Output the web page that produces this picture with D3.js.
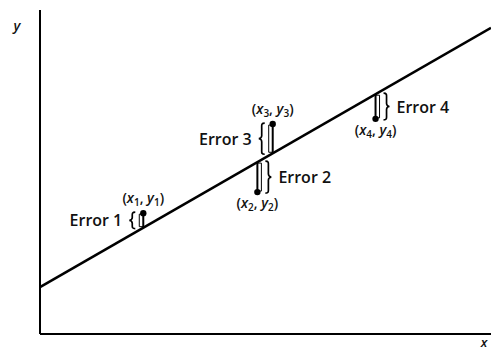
<!DOCTYPE html>
<html>
<head>
<meta charset="utf-8">
<script src="https://cdn.jsdelivr.net/npm/d3@7"></script>
<style>
  body { margin: 0; background: #fff; }
  svg { display: block; }
  text { font-family: "Open Sans", sans-serif; fill: #111; }
</style>
</head>
<body>
<svg width="491" height="350"></svg>
<script>
const svg = d3.select('svg');

// fitted line y = a + b x
const intercept = 1.45;
const slope = 0.8;

// observed points
const pointX = [2.29, 4.82, 5.16, 7.44];
const pointY = [3.73, 4.38, 6.48, 6.64];
const errorLabels = ['Error 1', 'Error 2', 'Error 3', 'Error 4'];
const braceSide = [-1, 1, -1, 1];

const x = d3.scaleLinear().domain([0, 10]).range([40, 491]);
const y = d3.scaleLinear().domain([0, 10]).range([334, 10]);

// axes (no ticks)
svg.append('line')
    .attr('x1', x(0)).attr('x2', x(0))
    .attr('y1', y(0)).attr('y2', y(10))
    .attr('stroke', '#000').attr('stroke-width', 2);
svg.append('line')
    .attr('x1', x(0)).attr('x2', x(10))
    .attr('y1', y(0)).attr('y2', y(0))
    .attr('stroke', '#000').attr('stroke-width', 2);

svg.append('text').attr('x', 17).attr('y', 31)
    .attr('font-style', 'italic').attr('font-weight', 600)
    .attr('font-size', 14).attr('text-anchor', 'middle').text('y');
svg.append('text').attr('x', 484).attr('y', 347)
    .attr('font-style', 'italic').attr('font-weight', 600)
    .attr('font-size', 13).attr('text-anchor', 'middle').text('x');

// regression line
const fit = v => intercept + slope * v;
svg.append('path')
    .attr('d', d3.line()([[x(0), y(fit(0))], [x(10), y(fit(10))]]))
    .attr('stroke', '#000').attr('stroke-width', 2.6).attr('fill', 'none');

// curly brace between y0 and y1 at xPos, pointing to side
function brace(xPos, y0, y1, side) {
    const w = 6 * side;
    const m = (y0 + y1) / 2;
    return `M${xPos},${y0} C${xPos + w * 0.6},${y0} ${xPos + w * 0.5},${y0 + 2} ${xPos + w * 0.5},${y0 + 5}` +
        ` L${xPos + w * 0.5},${m - 3} C${xPos + w * 0.5},${m - 1} ${xPos + w * 0.8},${m} ${xPos + w},${m}` +
        ` C${xPos + w * 0.8},${m} ${xPos + w * 0.5},${m + 1} ${xPos + w * 0.5},${m + 3}` +
        ` L${xPos + w * 0.5},${y1 - 5} C${xPos + w * 0.5},${y1 - 2} ${xPos + w * 0.6},${y1} ${xPos},${y1}`;
}

const pts = pointX.map((v, i) => ({
    i, x: v, y: pointY[i], side: braceSide[i], label: errorLabels[i]
}));

const g = svg.append('g');
pts.forEach(d => {
    const px = x(d.x);
    const py = y(d.y);
    const ly = y(fit(d.x));
    const top = Math.min(py, ly);
    const bot = Math.max(py, ly);
    const s = d.side;

    // error stem
    g.append('line')
        .attr('x1', px).attr('x2', px).attr('y1', py).attr('y2', ly)
        .attr('stroke', '#000').attr('stroke-width', 2);
    // thin bracket beside stem
    g.append('path')
        .attr('d', `M${px},${top + 1} H${px + 4 * s} V${bot - 1} H${px}`)
        .attr('stroke', '#000').attr('stroke-width', 1).attr('fill', 'none');
    // point
    g.append('circle').attr('cx', px).attr('cy', py).attr('r', 3.2).attr('fill', '#000');

    // curly brace: opens toward the stem
    const bx = px + 10 * s;
    g.append('path')
        .attr('d', brace(bx - 2 * s, top - 1, bot + 1, s))
        .attr('stroke', '#000').attr('stroke-width', 1.7).attr('fill', 'none');

    // error label
    g.append('text')
        .attr('x', px + 21 * s)
        .attr('y', (top + bot) / 2 + 6)
        .attr('text-anchor', s < 0 ? 'end' : 'start')
        .attr('font-size', 16).attr('font-weight', 600)
        .text(d.label);

    // coordinate label: above if point is above line, below otherwise
    const above = py < ly;
    const t = g.append('text')
        .attr('x', px)
        .attr('y', above ? py - 10 : py + 16)
        .attr('text-anchor', 'middle')
        .attr('font-size', 14).attr('font-weight', 600);
    t.append('tspan').text('(');
    t.append('tspan').attr('font-style', 'italic').text('x');
    t.append('tspan').attr('font-size', 10).attr('dy', 3).text(d.i + 1);
    t.append('tspan').attr('dy', -3).text(', ');
    t.append('tspan').attr('font-style', 'italic').text('y');
    t.append('tspan').attr('font-size', 10).attr('dy', 3).text(d.i + 1);
    t.append('tspan').attr('dy', -3).text(')');
});
</script>
</body>
</html>
